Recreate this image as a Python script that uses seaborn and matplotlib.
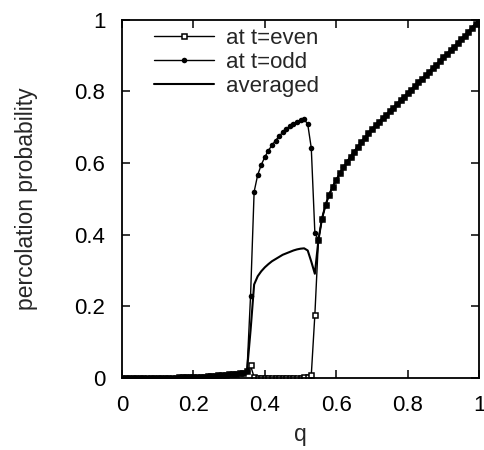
import numpy as np
import seaborn as sns
from matplotlib import pyplot as plt

# q grid, step 0.01
q = np.linspace(0, 1, 101)

# values
low = [0, 0, 0, 0, 0, 0, 0, 0, 0, 0,
       0.001, 0.001, 0.001, 0.001, 0.001, 0.001, 0.002, 0.002, 0.002, 0.003,
       0.003, 0.003, 0.004, 0.004, 0.005, 0.005, 0.006, 0.007, 0.008, 0.009,
       0.010, 0.011, 0.012, 0.013, 0.015, 0.020]  # q = 0.00 .. 0.35
odd_mid = [0.23, 0.52, 0.567, 0.595, 0.617, 0.635, 0.650, 0.663, 0.675, 0.686,
           0.695, 0.703, 0.710, 0.716, 0.720, 0.722, 0.709, 0.642, 0.406]  # 0.36 .. 0.54
even_mid = [0.035, 0.002, 0.001, 0.001, 0.001, 0.001, 0.001, 0.001, 0.001, 0.001,
            0.001, 0.001, 0.001, 0.001, 0.001, 0.002, 0.003, 0.008, 0.176]
avg_mid = [0.133, 0.261, 0.284, 0.298, 0.309, 0.318, 0.326, 0.332, 0.338, 0.344,
           0.348, 0.352, 0.356, 0.359, 0.361, 0.362, 0.356, 0.325, 0.291]
high = [0.385, 0.445, 0.483, 0.512, 0.534, 0.553, 0.571, 0.588, 0.603, 0.618,
        0.632, 0.645, 0.658, 0.671, 0.683, 0.695, 0.705, 0.715, 0.725, 0.735,
        0.745, 0.755, 0.765, 0.775, 0.785, 0.795, 0.805, 0.815, 0.825, 0.835,
        0.845, 0.855, 0.865, 0.875, 0.885, 0.895, 0.905, 0.915, 0.925, 0.935,
        0.946, 0.956, 0.967, 0.978, 0.989, 1.000]  # q = 0.55 .. 1.00

t_even = low + even_mid + high
t_odd = low + odd_mid + high
averaged = low + avg_mid + high

ticks = [0, 0.2, 0.4, 0.6, 0.8, 1]
tick_labels = ['0', '0.2', '0.4', '0.6', '0.8', '1']

sns.set_style("ticks")
plt.rcParams['font.family'] = ['Liberation Sans', 'DejaVu Sans']

fig = plt.figure(figsize=(4.84, 4.5), dpi=100)
ax = fig.add_axes([0.252, 0.16, 0.738, 0.796])

sns.lineplot(x=q, y=t_even, ax=ax, color='black', lw=1.0, marker='s', markersize=3.6,
             markerfacecolor='white', markeredgecolor='black', markeredgewidth=1.1,
             label='at t=even')
sns.lineplot(x=q, y=t_odd, ax=ax, color='black', lw=1.0, marker='o', markersize=4,
             markeredgewidth=0, label='at t=odd')
sns.lineplot(x=q, y=averaged, ax=ax, color='black', lw=1.5, label='averaged')

ax.set_xlim(0, 1)
ax.set_ylim(0, 1)
ax.set_xticks(ticks)
ax.set_xticklabels(tick_labels)
ax.set_yticks(ticks)
ax.set_yticklabels(tick_labels)
ax.tick_params(direction='in', length=6, width=1.1, top=True, right=True,
               labelsize=16, pad=12, colors='black')
for s in ax.spines.values():
    s.set_visible(True)
    s.set_linewidth(1.3)
    s.set_color('black')
ax.set_xlabel('q', fontsize=16.5, labelpad=5)
ax.set_ylabel('percolation probability', fontsize=16.5, labelpad=26)

ax.legend(loc='upper left', bbox_to_anchor=(0.045, 1.02), frameon=False,
          fontsize=16, handlelength=2.7, handletextpad=0.55, labelspacing=0.12,
          numpoints=1, borderaxespad=0.3)

plt.savefig('out.png', dpi=100)
